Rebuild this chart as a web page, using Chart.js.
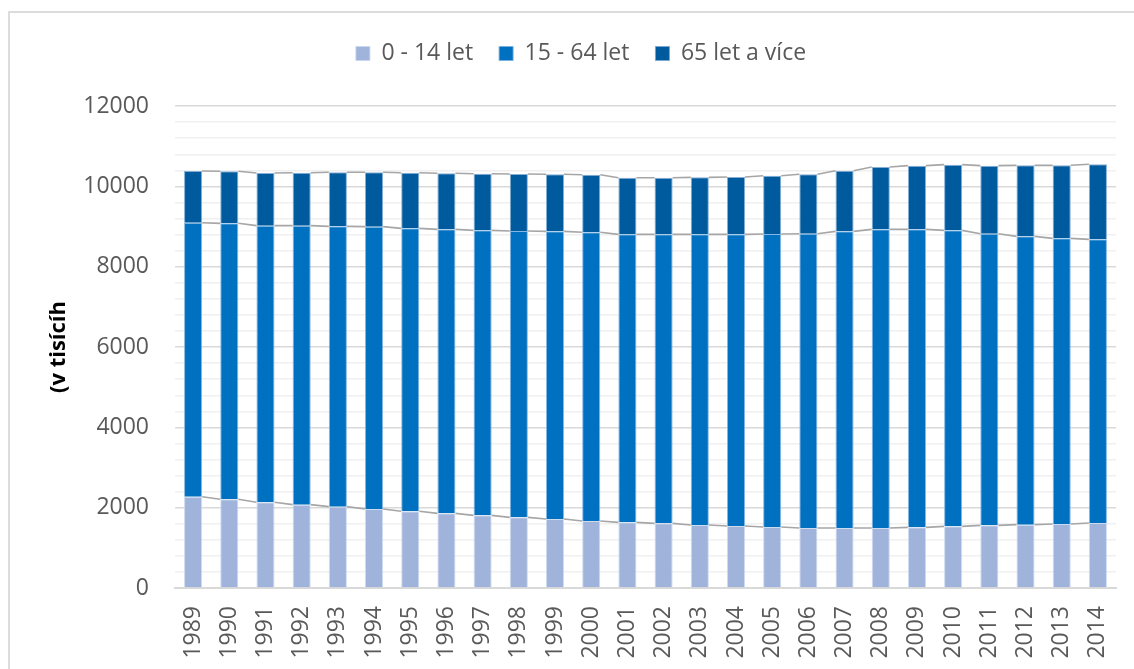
<!DOCTYPE html>
<html>
<head>
<meta charset="utf-8">
<script src="https://cdn.jsdelivr.net/npm/chart.js@4.4.1/dist/chart.umd.min.js"></script>
<style>
  html, body { margin: 0; padding: 0; background: #fff; overflow: hidden; }
  #wrap { position: relative; width: 1134px; height: 669px; overflow: hidden; }
  #frame { position: absolute; left: 8px; top: 11px; width: 2000px; height: 2000px;
           border-top: 2px solid #dcdcdc; border-left: 2px solid #dcdcdc; }
  canvas { position: absolute; left: 0; top: 0; }
</style>
</head>
<body>
<div id="wrap">
  <div id="frame"></div>
  <canvas id="c" width="1134" height="669"></canvas>
</div>
<script>
const years = ['1989','1990','1991','1992','1993','1994','1995','1996','1997','1998','1999','2000','2001',
               '2002','2003','2004','2005','2006','2007','2008','2009','2010','2011','2012','2013','2014'];
const age0to14 = [2273,2208,2133,2075,2025,1967,1909,1859,1809,1759,1718,1668,1635,
                  1610,1568,1544,1519,1494,1494,1494,1510,1535,1560,1577,1593,1618];
const age15to64 = [6822,6871,6888,6946,6979,7029,7045,7070,7095,7129,7161,7187,7170,
                   7195,7237,7261,7294,7327,7385,7435,7419,7369,7261,7178,7112,7062];
const age65plus = [1287,1295,1311,1319,1345,1353,1386,1395,1411,1419,1420,1435,1410,
                   1410,1419,1427,1452,1478,1511,1552,1586,1636,1694,1768,1818,1868];
const seriesNames = ['0 - 14 let', '15 - 64 let', '65 let a více'];
const yTitle = '(v tisícíh';
const yMax = 12000, yMinorStep = 400, yMajorStep = 2000;

const FONT = "'Open Sans', 'DejaVu Sans', sans-serif";
const TXT = '#595959';

const seriesLines = {
  id: 'seriesLines',
  beforeDatasetsDraw(chart) {
    const ctx = chart.ctx;
    ctx.save();
    ctx.strokeStyle = '#a6a6a6';
    ctx.lineWidth = 1.6;
    chart.data.datasets.forEach((ds, di) => {
      const meta = chart.getDatasetMeta(di);
      ctx.beginPath();
      for (let i = 0; i < meta.data.length - 1; i++) {
        const a = meta.data[i], b = meta.data[i + 1];
        ctx.moveTo(a.x + a.width / 2, a.y);
        ctx.lineTo(b.x - b.width / 2, b.y);
      }
      ctx.stroke();
    });
    ctx.restore();
  }
};

const legendSpace = {
  id: 'legendSpace',
  beforeInit(chart) {
    const fit = chart.legend.fit;
    chart.legend.fit = function () {
      fit.bind(chart.legend)();
      this.height += 31;
    };
  }
};

new Chart(document.getElementById('c'), {
  type: 'bar',
  data: {
    labels: years,
    datasets: [
      { label: seriesNames[0], data: age0to14, backgroundColor: '#a0b3da', borderColor: 'rgba(200,215,240,0.9)', borderWidth: 1 },
      { label: seriesNames[1], data: age15to64, backgroundColor: '#0070c0', borderColor: 'rgba(120,175,225,0.9)', borderWidth: 1 },
      { label: seriesNames[2], data: age65plus, backgroundColor: '#005a9e', borderColor: 'rgba(120,165,210,0.9)', borderWidth: 1 }
    ]
  },
  options: {
    responsive: false,
    animation: false,
    layout: { padding: { top: 16, right: 0, left: 28, bottom: 0 } },
    datasets: { bar: { categoryPercentage: 1.0, barPercentage: 0.5 } },
    plugins: {
      legend: {
        position: 'top',
        labels: {
          font: { family: FONT, size: 23 },
          color: TXT,
          boxWidth: 14,
          boxHeight: 14,
          padding: 26
        }
      },
      tooltip: { enabled: false }
    },
    scales: {
      x: {
        stacked: true,
        grid: { display: false, drawTicks: false },
        border: { display: true, color: '#d9d9d9', width: 2 },
        ticks: {
          font: { family: FONT, size: 23 },
          color: TXT,
          minRotation: 90,
          maxRotation: 90,
          autoSkip: false,
          padding: 18
        },
        afterFit(scale) {
          scale.height = 81;
          scale.paddingLeft = 0;
          scale.paddingRight = 18;
        }
      },
      y: {
        stacked: true,
        min: 0,
        max: yMax,
        grid: {
          drawTicks: false,
          color: (c) => (c.tick && c.tick.value % yMajorStep === 0) ? '#d9d9d9' : '#f0f0f0',
          lineWidth: (c) => (c.tick && c.tick.value % yMajorStep === 0) ? 1.6 : 1.4
        },
        border: { display: false },
        ticks: {
          stepSize: yMinorStep,
          autoSkip: false,
          font: { family: FONT, size: 23 },
          color: TXT,
          padding: 26,
          callback: (v) => (v % yMajorStep === 0 ? String(v) : '')
        },
        title: {
          display: true,
          text: yTitle,
          font: { family: FONT, size: 22, weight: 'bold' },
          color: '#000',
          padding: { top: 18, bottom: 0 }
        },
        afterFit(scale) { scale.width = 147; }
      }
    }
  },
  plugins: [seriesLines, legendSpace]
});
</script>
</body>
</html>
